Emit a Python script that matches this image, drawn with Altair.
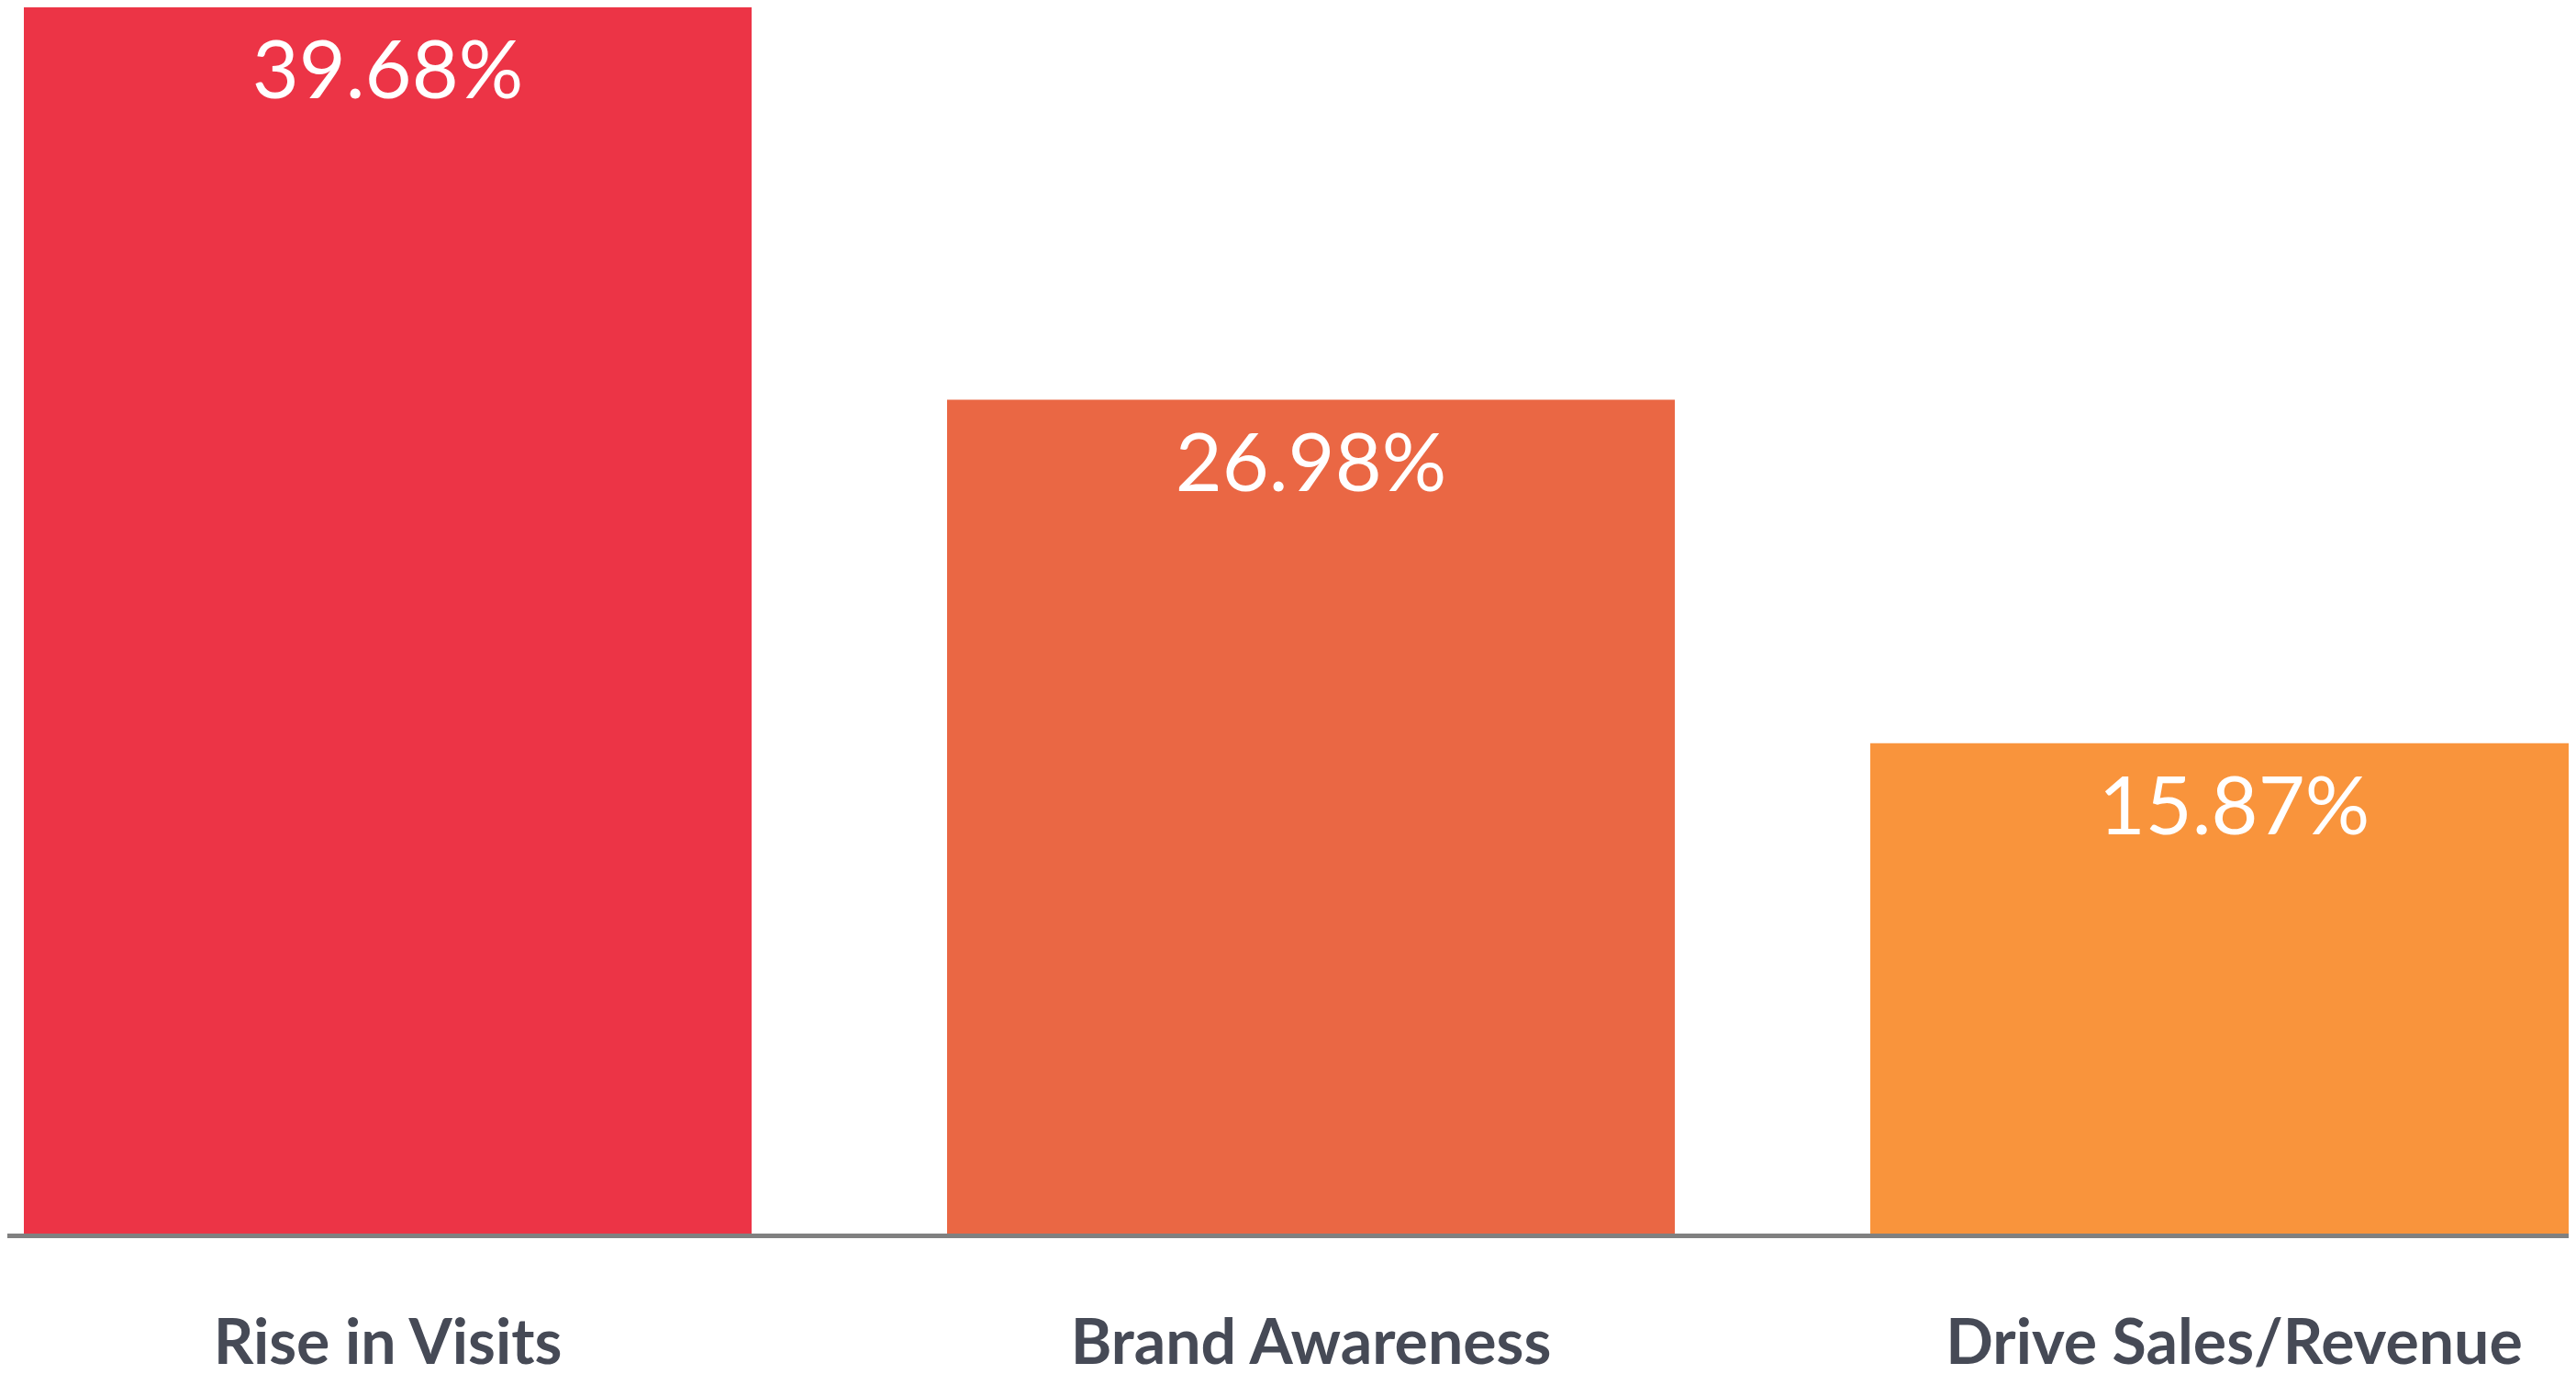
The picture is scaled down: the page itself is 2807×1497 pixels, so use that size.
import altair as alt
import pandas as pd

categories = ["Rise in Visits", "Brand Awareness", "Drive Sales/Revenue"]
values = [39.68, 26.98, 15.87]
value_labels = ["39.68%", "26.98%", "15.87%"]
bar_colors = ["#EC3446", "#EA6744", "#F9943C"]

df = pd.DataFrame({"category": categories, "value": values, "label": value_labels})

W = 2791
H = 1336

x = alt.X(
    "category:N",
    sort=categories,
    scale=alt.Scale(range=[18, 2823], paddingInner=0.2117, paddingOuter=0),
    axis=None,
)
y = alt.Y("value:Q", scale=alt.Scale(domain=[0, 39.68], nice=False, zero=True), axis=None)

bars = alt.Chart(df).mark_bar(clip=True).encode(
    x=x,
    y=y,
    color=alt.Color("category:N", scale=alt.Scale(domain=categories, range=bar_colors), legend=None),
)

vals = alt.Chart(df).mark_text(
    font="Lato", fontWeight="normal", fontSize=88, color="white", baseline="alphabetic", dy=99
).encode(x=x, y=y, text="label:N")

cats = alt.Chart(df).mark_text(
    font="Lato", fontWeight="bold", fontSize=68, color="#464A56", baseline="alphabetic"
).encode(x=x, y=alt.value(H + 142), text="category:N")

rule = alt.Chart(pd.DataFrame({"a": [0]})).mark_rule(color="#808080", strokeWidth=5).encode(
    x=alt.value(0), x2=alt.value(W), y=alt.value(H + 2.5)
)

chart = alt.layer(bars, vals, cats, rule).properties(
    width=W,
    height=H,
    padding={"left": 0, "top": 0, "right": 0, "bottom": 152},
    autosize=alt.AutoSizeParams(type="none"),
).configure_view(stroke=None)

chart.save("out.html", embed_options={"renderer": "svg", "actions": False})
